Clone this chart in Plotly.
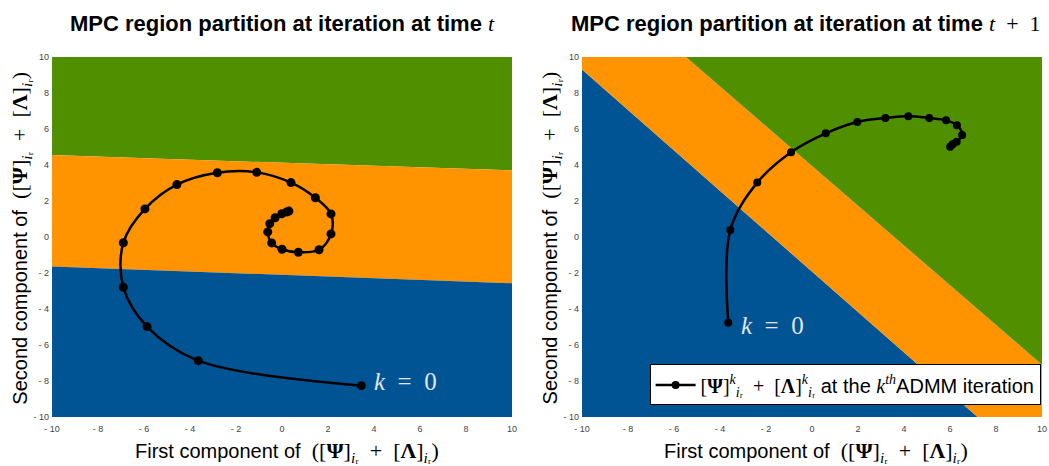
import plotly.graph_objects as go

# Colours of the three MPC regions
BLUE = "#005493"
ORANGE = "#FF9300"
GREEN = "#4F8F00"

# Region boundaries at time t (lines across x = -10 .. 10)
left_x_ends = [-10, 10]
left_upper_boundary = [4.55, 3.7]    # green / orange
left_lower_boundary = [-1.64, -2.57]  # orange / blue

# Region boundaries at time t+1
right_lower_boundary_x = [-10, 7.2]   # blue / orange
right_lower_boundary_y = [9.3, -10]
right_upper_boundary_x = [-5.48, 10]  # orange / green
right_upper_boundary_y = [10, -7.1]

# ADMM iterates at time t
left_traj_x = [3.45, -3.64, -5.87, -6.90, -6.90, -5.96, -4.57, -2.81, -1.10, 0.39,
               1.45, 2.13, 2.13, 1.61, 0.71, 0.00, -0.45, -0.62, -0.53, -0.30,
               -0.01, 0.20, 0.30]
left_traj_y = [-8.26, -6.87, -4.98, -2.79, -0.32, 1.56, 2.91, 3.57, 3.59, 3.02,
               2.18, 1.28, 0.17, -0.71, -0.85, -0.68, -0.33, 0.28, 0.74, 1.07,
               1.29, 1.39, 1.44]

# ADMM iterates at time t+1
right_traj_x = [-3.64, -3.55, -2.38, -0.91, 0.60, 1.97, 3.19, 4.19, 5.10, 5.83,
                6.30, 6.53, 6.29, 6.12, 6.01]
right_traj_y = [-4.76, 0.39, 3.02, 4.71, 5.76, 6.39, 6.61, 6.71, 6.61, 6.48,
                6.21, 5.67, 5.29, 5.15, 5.02]

tick_vals = [-10, -8, -6, -4, -2, 0, 2, 4, 6, 8, 10]
tick_text = ["- 10", "- 8", "- 6", "- 4", "- 2", "0", "2", "4", "6", "8", "10"]

fig = go.Figure()


def region(xs, ys, color, xa, ya):
    fig.add_trace(go.Scatter(
        x=xs + [xs[0]], y=ys + [ys[0]], mode="lines", fill="toself",
        fillcolor=color, line=dict(width=0, color=color),
        hoverinfo="skip", showlegend=False, xaxis=xa, yaxis=ya))


# Left panel regions
lx0, lx1 = left_x_ends
region([lx0, lx1, lx1, lx0], [left_upper_boundary[0], left_upper_boundary[1], 10, 10],
       GREEN, "x", "y")
region([lx0, lx1, lx1, lx0],
       [left_lower_boundary[0], left_lower_boundary[1], left_upper_boundary[1], left_upper_boundary[0]],
       ORANGE, "x", "y")
region([lx0, lx1, lx1, lx0], [-10, -10, left_lower_boundary[1], left_lower_boundary[0]],
       BLUE, "x", "y")

# Right panel regions
region([-10, right_lower_boundary_x[1], right_lower_boundary_x[0]],
       [-10, right_lower_boundary_y[1], right_lower_boundary_y[0]], BLUE, "x2", "y2")
region([right_lower_boundary_x[0], right_lower_boundary_x[1], 10, right_upper_boundary_x[1],
        right_upper_boundary_x[0], -10],
       [right_lower_boundary_y[0], right_lower_boundary_y[1], -10, right_upper_boundary_y[1],
        right_upper_boundary_y[0], 10], ORANGE, "x2", "y2")
region([right_upper_boundary_x[0], right_upper_boundary_x[1], 10],
       [right_upper_boundary_y[0], right_upper_boundary_y[1], 10], GREEN, "x2", "y2")

legend_label = ("[<b>Ψ</b>]<sup><i>k</i></sup><sub><i>i</i>ᵣ</sub>  +  "
                "[<b>Λ</b>]<sup><i>k</i></sup><sub><i>i</i>ᵣ</sub>"
                "<span style='font-family:Liberation Sans'> at the </span><i>k</i><sup><i>th</i></sup>"
                "<span style='font-family:Liberation Sans'>ADMM iteration</span>")

fig.add_trace(go.Scatter(
    x=left_traj_x, y=left_traj_y, mode="lines+markers",
    line=dict(color="black", width=2.5, shape="spline", smoothing=1.0),
    marker=dict(color="black", size=9), showlegend=False, hoverinfo="skip",
    xaxis="x", yaxis="y"))
fig.add_trace(go.Scatter(
    x=right_traj_x, y=right_traj_y, mode="lines+markers", name=legend_label,
    line=dict(color="black", width=2.5, shape="spline", smoothing=1.0),
    marker=dict(color="black", size=8), showlegend=True, hoverinfo="skip",
    xaxis="x2", yaxis="y2"))

axis_common = dict(range=[-10, 10], tickvals=tick_vals, ticktext=tick_text,
                   showgrid=False, zeroline=False, showline=False, ticks="",
                   automargin=False,
                   tickfont=dict(family="Liberation Sans, Arial", size=9, color="#444"))
x_axis_extra = dict(ticklabelstandoff=5)
y_axis_extra = dict(ticklabelstandoff=2)

fig.update_layout(
    width=1049, height=466,
    margin=dict(l=0, r=0, t=0, b=0),
    paper_bgcolor="white", plot_bgcolor="white",
    xaxis=dict(domain=[0.0496, 0.4881], anchor="y", **axis_common, **x_axis_extra),
    yaxis=dict(domain=[0.1052, 0.8777], anchor="x", **axis_common, **y_axis_extra),
    xaxis2=dict(domain=[0.5548, 0.9933], anchor="y2", **axis_common, **x_axis_extra),
    yaxis2=dict(domain=[0.1052, 0.8777], anchor="x2", **axis_common, **y_axis_extra),
    showlegend=True,
    legend=dict(x=0.992, y=0.13, xanchor="right", yanchor="bottom",
                bgcolor="white", bordercolor="black", borderwidth=1,
                font=dict(family="Liberation Serif, Times New Roman", size=20, color="black"),
                itemwidth=40, tracegroupgap=0),
)

comp = ("([<b>Ψ</b>]<sub><i>i</i>ᵣ</sub>  +  [<b>Λ</b>]<sub><i>i</i>ᵣ</sub>)")
sans = "Liberation Sans, Arial"
serif = "Liberation Serif, Times New Roman"
math_span = "<span style='font-family:Liberation Serif;font-size:22px'>"

annotations = [
    dict(text="<b>MPC region partition at iteration at time</b> " + math_span + "<i>t</i></span>",
         x=0.269, y=0.95, xref="paper", yref="paper", showarrow=False,
         xanchor="center", yanchor="middle",
         font=dict(family=sans, size=22, color="black")),
    dict(text="<b>MPC region partition at iteration at time</b> " + math_span + "<i>t</i>  +  1</span>",
         x=0.768, y=0.95, xref="paper", yref="paper", showarrow=False,
         xanchor="center", yanchor="middle",
         font=dict(family=sans, size=22, color="black")),
    dict(text="First component of  " + math_span + comp + "</span>",
         x=0.274, y=0.030, xref="paper", yref="paper", showarrow=False,
         xanchor="center", yanchor="middle",
         font=dict(family=sans, size=20, color="black")),
    dict(text="First component of  " + math_span + comp + "</span>",
         x=0.778, y=0.030, xref="paper", yref="paper", showarrow=False,
         xanchor="center", yanchor="middle",
         font=dict(family=sans, size=20, color="black")),
    dict(text="Second component of  " + math_span + comp + "</span>",
         x=0.020, y=0.49, xref="paper", yref="paper", showarrow=False, textangle=-90,
         xanchor="center", yanchor="middle",
         font=dict(family=sans, size=20, color="black")),
    dict(text="Second component of  " + math_span + comp + "</span>",
         x=0.525, y=0.49, xref="paper", yref="paper", showarrow=False, textangle=-90,
         xanchor="center", yanchor="middle",
         font=dict(family=sans, size=20, color="black")),
    dict(text="<i>k</i>  =  0", x=left_traj_x[0], y=left_traj_y[0], xref="x", yref="y",
         showarrow=False, xanchor="left", yanchor="middle", xshift=11, yshift=4,
         font=dict(family=serif, size=25, color="#e4e4ee")),
    dict(text="<i>k</i>  =  0", x=right_traj_x[0], y=right_traj_y[0], xref="x2", yref="y2",
         showarrow=False, xanchor="left", yanchor="middle", xshift=11, yshift=-3,
         font=dict(family=serif, size=25, color="#e4e4ee")),
]
fig.update_layout(annotations=annotations)

fig.write_html("out.html")
